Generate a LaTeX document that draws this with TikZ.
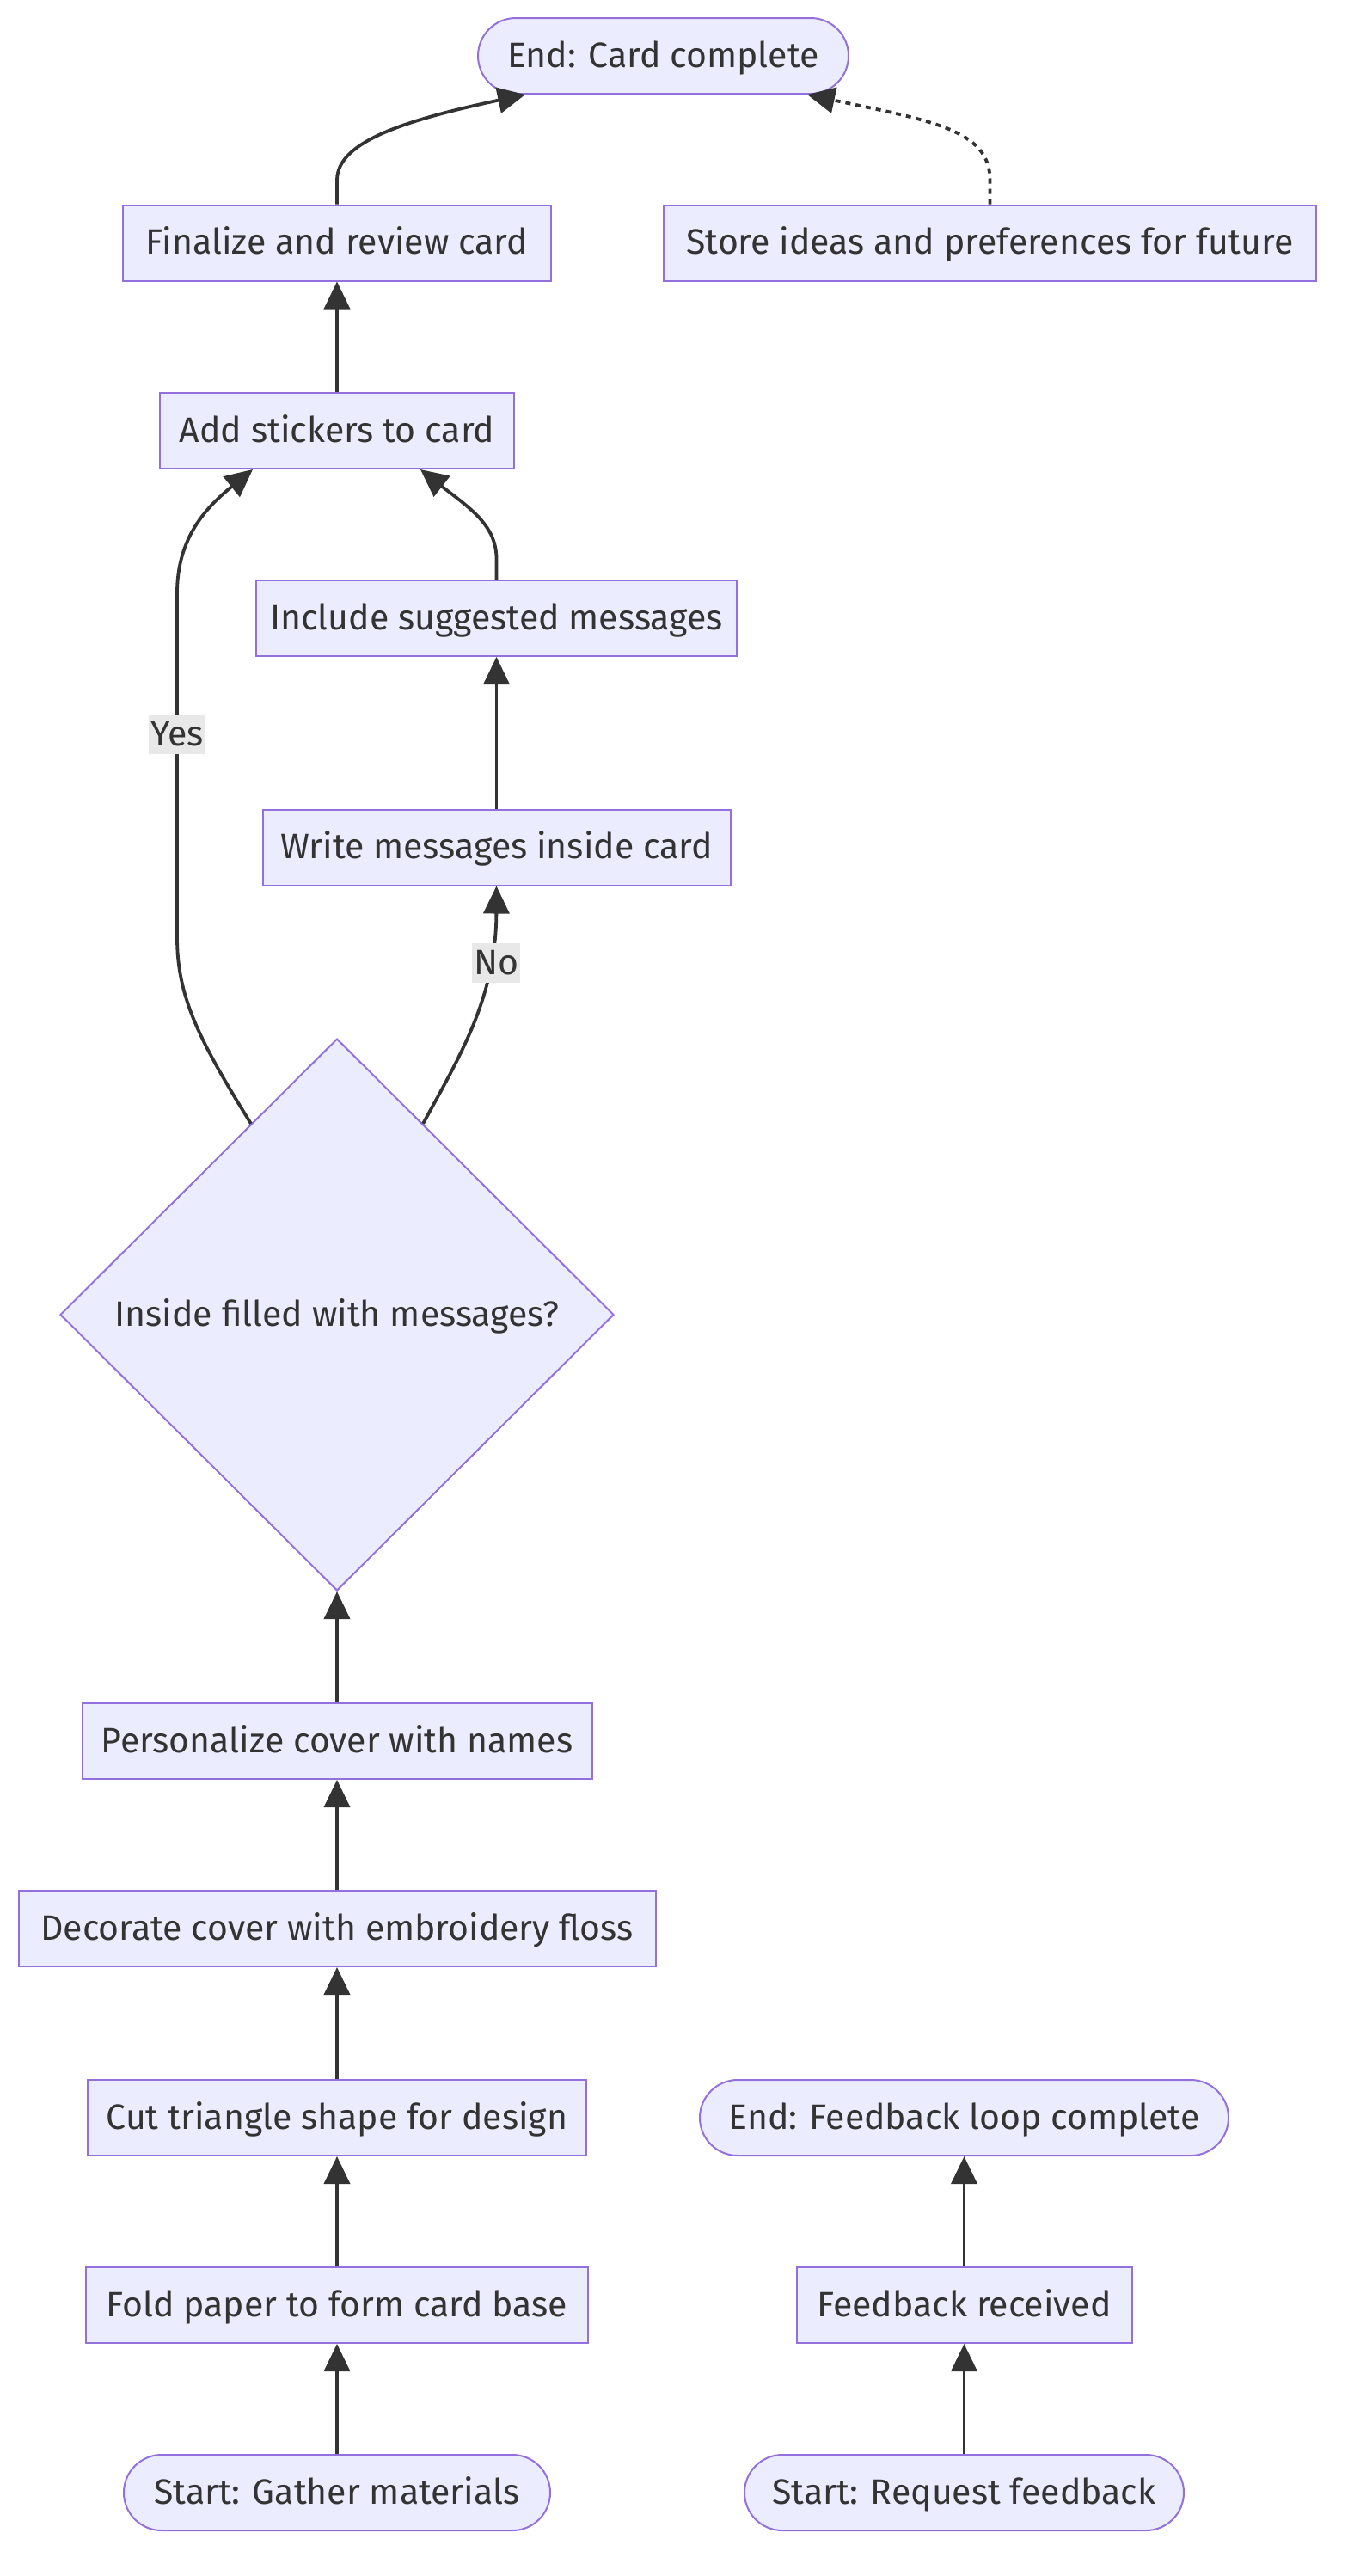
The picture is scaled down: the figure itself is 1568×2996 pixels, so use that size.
\documentclass[tikz,border=0pt]{standalone}
\usepackage{fontspec}
\setmainfont{Fira Sans}
\usetikzlibrary{shapes.geometric,arrows.meta,calc}
\definecolor{nodefill}{HTML}{ECECFF}
\definecolor{nodeborder}{HTML}{9370DB}
\definecolor{edgecol}{HTML}{333333}
\definecolor{labelbg}{HTML}{E8E8E8}
\begin{document}
\begin{tikzpicture}[x=1pt,y=-1pt,
  box/.style={draw=nodeborder, fill=nodefill, line width=2pt, minimum height=88pt,
    inner sep=0pt, text=edgecol, text height=32pt, text depth=6pt, font=\fontsize{41}{48}\selectfont},
  stadium/.style={box, rounded corners=44pt},
  decision/.style={box, diamond, aspect=1, minimum width=644pt, minimum height=642pt},
  edge/.style={draw=edgecol, line width=3.8pt, -{Triangle[length=32pt,width=30pt]}},
  dotedge/.style={edge, dash pattern=on 6pt off 6pt},
  lbl/.style={fill=labelbg, text=edgecol, inner xsep=2pt, inner ysep=4pt, text height=32pt, text depth=6pt, font=\fontsize{41}{48}\selectfont}]
\useasboundingbox (0,0) rectangle (1568,2996);

\node[stadium, minimum width=431pt] (endcard) at (771.5,65) {End: Card complete};
\node[box, minimum width=498pt] (finalize) at (392,282.5) {Finalize and review card};
\node[box, minimum width=759pt] (store) at (1151.5,282.5) {Store ideas and preferences for future};
\node[box, minimum width=412pt] (add) at (392,501) {Add stickers to card};
\node[box, minimum width=559pt] (include) at (577.5,719) {Include suggested messages};
\node[box, minimum width=544pt] (write) at (577.5,985.5) {Write messages inside card};
\node[decision] (dec) at (392,1529) {Inside filled with messages?};
\node[box, minimum width=593pt] (personalize) at (392,2025) {Personalize cover with names};
\node[box, minimum width=741pt] (decorate) at (392,2243) {Decorate cover with embroidery floss};
\node[box, minimum width=580pt] (cut) at (392,2463) {Cut triangle shape for design};
\node[stadium, minimum width=615pt] (endfb) at (1121.5,2463) {End: Feedback loop complete};
\node[box, minimum width=584pt] (fold) at (392,2681) {Fold paper to form card base};
\node[box, minimum width=390pt] (fbrecv) at (1121.5,2681) {Feedback received};
\node[stadium, minimum width=496pt] (startg) at (392,2899) {Start: Gather materials};
\node[stadium, minimum width=511pt] (startr) at (1121.5,2899) {Start: Request feedback};

\draw[edge] (startg) -- (fold);
\draw[edge] (fold) -- (cut);
\draw[edge] (cut) -- (decorate);
\draw[edge] (decorate) -- (personalize);
\draw[edge] (personalize) -- (dec);
\draw[edge] (startr) -- (fbrecv);
\draw[edge] (fbrecv) -- (endfb);
\draw[edge] (write) -- (include);
\draw[edge] (add) -- (finalize);

\coordinate (yesstart) at ($(dec.north)!0.31!(dec.west)$);
\coordinate (nostart) at ($(dec.north)!0.31!(dec.east)$);

\draw[edge] (yesstart) .. controls (232,1210) and (206,1160) .. (206,1090)
  -- node[lbl, pos=0.59] (yeslbl) {Yes} (206,690)
  .. controls (206,625) and (240,590) .. ($(add.south west)+(109,0)$);
\draw[edge] (nostart) .. controls (535,1228) and (577,1160) .. (write.south);
\node[lbl] (nolbl) at (577,1120) {No};
\draw[edge] (include.north) -- ++(0,-25) .. controls (577,610) and (545,590) .. ($(add.south west)+(304,0)$);
\draw[edge] (finalize.north) -- ++(0,-28) .. controls (392,165) and (470,140) .. ($(endcard.south west)+(56,0)$);
\draw[dotedge] (store.north) -- ++(0,-28) .. controls (1152,150) and (1080,140) .. ($(endcard.south east)+(-49,0)$);
\end{tikzpicture}
\end{document}
